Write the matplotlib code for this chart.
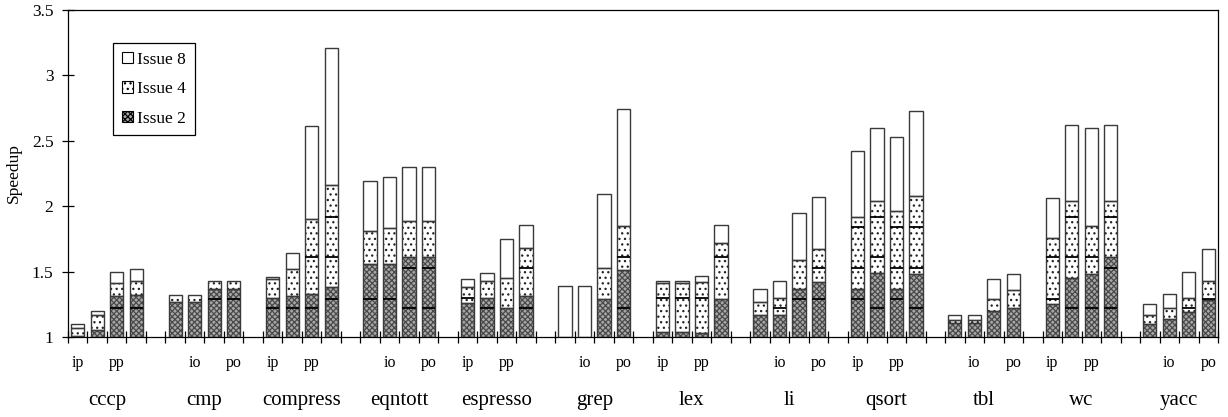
import matplotlib
matplotlib.use("Agg")
import matplotlib.pyplot as plt
from matplotlib.patches import Patch
from matplotlib.transforms import blended_transform_factory
import numpy as np

plt.rcParams['font.family'] = ['Liberation Serif', 'DejaVu Serif']
plt.rcParams['hatch.linewidth'] = 0.9

groups = ['cccp', 'cmp', 'compress', 'eqntott', 'espresso', 'grep',
          'lex', 'li', 'qsort', 'tbl', 'wc', 'yacc']
configs = ['ip', 'io', 'pp', 'po']

issue2 = [
    1.01, 1.05, 1.31, 1.32,   # cccp
    1.27, 1.27, 1.37, 1.37,   # cmp
    1.30, 1.31, 1.33, 1.38,   # compress
    1.56, 1.56, 1.61, 1.61,   # eqntott
    1.26, 1.30, 1.22, 1.31,   # espresso
    1.00, 1.00, 1.29, 1.51,   # grep
    1.04, 1.04, 1.03, 1.29,   # lex
    1.17, 1.17, 1.37, 1.42,   # li
    1.37, 1.49, 1.37, 1.48,   # qsort
    1.11, 1.11, 1.20, 1.22,   # tbl
    1.25, 1.45, 1.48, 1.61,   # wc
    1.10, 1.14, 1.19, 1.28,   # yacc
]
issue4 = [
    1.07, 1.17, 1.41, 1.43,
    1.32, 1.32, 1.43, 1.43,
    1.44, 1.52, 1.90, 2.16,
    1.81, 1.83, 1.89, 1.89,
    1.38, 1.43, 1.45, 1.68,
    1.00, 1.00, 1.53, 1.85,
    1.41, 1.41, 1.42, 1.72,
    1.27, 1.30, 1.59, 1.67,
    1.92, 2.04, 1.96, 2.08,
    1.13, 1.13, 1.29, 1.36,
    1.76, 2.04, 1.85, 2.04,
    1.17, 1.22, 1.30, 1.43,
]
issue8 = [
    1.10, 1.20, 1.50, 1.52,
    1.32, 1.32, 1.43, 1.43,
    1.46, 1.64, 2.61, 3.21,
    2.19, 2.22, 2.30, 2.30,
    1.44, 1.49, 1.75, 1.86,
    1.39, 1.39, 2.09, 2.74,
    1.43, 1.43, 1.47, 1.86,
    1.37, 1.43, 1.95, 2.07,
    2.42, 2.60, 2.53, 2.73,
    1.17, 1.17, 1.44, 1.48,
    2.06, 2.62, 2.60, 2.62,
    1.25, 1.33, 1.50, 1.67,
]
# extra divider lines visible inside the bars
inner_lines = [
    [], [], [1.22], [1.22],
    [], [], [1.29], [1.29],
    [1.22], [1.22], [1.22, 1.61], [1.29, 1.61, 1.92],
    [1.29], [1.29], [1.22, 1.53], [1.22, 1.53],
    [1.30], [1.22], [], [1.22, 1.53],
    [], [], [], [1.22, 1.61],
    [1.30], [1.30], [1.30], [1.61],
    [], [1.22], [1.29], [1.29, 1.53],
    [1.29, 1.53, 1.84], [1.22, 1.61, 1.92], [1.29, 1.53, 1.84], [1.22, 1.53, 1.84],
    [], [], [], [],
    [1.29, 1.61], [1.22, 1.61, 1.92], [1.22, 1.61], [1.22, 1.53, 1.92],
    [], [], [1.22], [1.29],
]
yticks = [1, 1.5, 2, 2.5, 3, 3.5]
ytick_labels = ['1', '1.5', '2', '2.5', '3', '3.5']

base = 1.0
nslot = 5
pos = np.array([g * nslot + c for g in range(len(groups)) for c in range(len(configs))], float)
i2 = np.array(issue2)
i4 = np.array(issue4)
i8 = np.array(issue8)
w = 0.68

fig = plt.figure(figsize=(12.28, 4.17), dpi=100)
ax = fig.add_axes([68 / 1228, 1 - 337 / 417, 1150 / 1228, 327 / 417])

dark_fc, dark_hc = '#a8a8a8', '#4a4a4a'
dot_hc = '#222222'
outline = '#3a3a3a'

# fills
ax.bar(pos, i2 - base, w, bottom=base, color=dark_fc, edgecolor=dark_hc,
       hatch='xxxxxx', linewidth=0, zorder=2)
ax.bar(pos, i4 - i2, w, bottom=i2, color='white', edgecolor=dot_hc,
       hatch='...', linewidth=0, zorder=2)
ax.bar(pos, i8 - i4, w, bottom=i4, color='white', edgecolor='white',
       linewidth=0, zorder=2)
# outlines
for bottom, top in [(np.full_like(i2, base), i2), (i2, i4), (i4, i8)]:
    h = top - bottom
    mask = h > 0.001
    ax.bar(pos[mask], h[mask], w, bottom=bottom[mask], fill=False,
           edgecolor=outline, linewidth=1.0, zorder=3)
# inner lines
for x, lines in zip(pos, inner_lines):
    for yv in lines:
        ax.hlines(yv, x - w / 2, x + w / 2, color='black', linewidth=1.3, zorder=4)

ax.set_xlim(-0.5, len(groups) * nslot - 1 - 0.5)
ax.set_ylim(1, 3.5)
ax.set_yticks(yticks)
ax.set_yticklabels(ytick_labels, fontsize=12.5)
ax.set_xticks(np.arange(-0.5, len(groups) * nslot - 1, 1.0))
ax.set_xticklabels([])
ax.tick_params(axis='x', direction='inout', length=8, width=0.9)
ax.tick_params(axis='y', direction='inout', length=8, width=0.9, pad=6.5)
for s in ax.spines.values():
    s.set_linewidth(0.9)

trans = blended_transform_factory(ax.transData, ax.transAxes)
slot_labels = configs + ['']
for s in range(0, len(groups) * nslot - 1, 2):
    lab = slot_labels[s % nslot]
    if lab:
        ax.text(s, -0.08, lab, transform=trans, ha='center', va='center', fontsize=11.5)
for g, name in enumerate(groups):
    ax.text(g * nslot + 1.5, -0.195, name, transform=trans, ha='center',
            va='center', fontsize=15)

fig.text(14 / 1228, 1 - 173 / 417, 'Speedup', rotation=90, ha='center',
         va='center', fontsize=12.5)

handles = [
    Patch(facecolor='white', edgecolor='black', linewidth=0.8, label='Issue 8'),
    Patch(facecolor='white', edgecolor='black', hatch='...', linewidth=0.8, label='Issue 4'),
    Patch(facecolor=dark_fc, edgecolor='black', hatch='xxxxxx', linewidth=0.8, label='Issue 2'),
]
leg = ax.legend(handles=handles, loc='upper left', bbox_to_anchor=(0.039, 0.899),
                borderaxespad=0, fontsize=12.5, fancybox=False, edgecolor='black',
                framealpha=1, handlelength=0.65, handleheight=0.65,
                handletextpad=0.25, labelspacing=0.78, borderpad=0.5)
leg.get_frame().set_linewidth(0.9)

fig.savefig('out.png', dpi=100)
